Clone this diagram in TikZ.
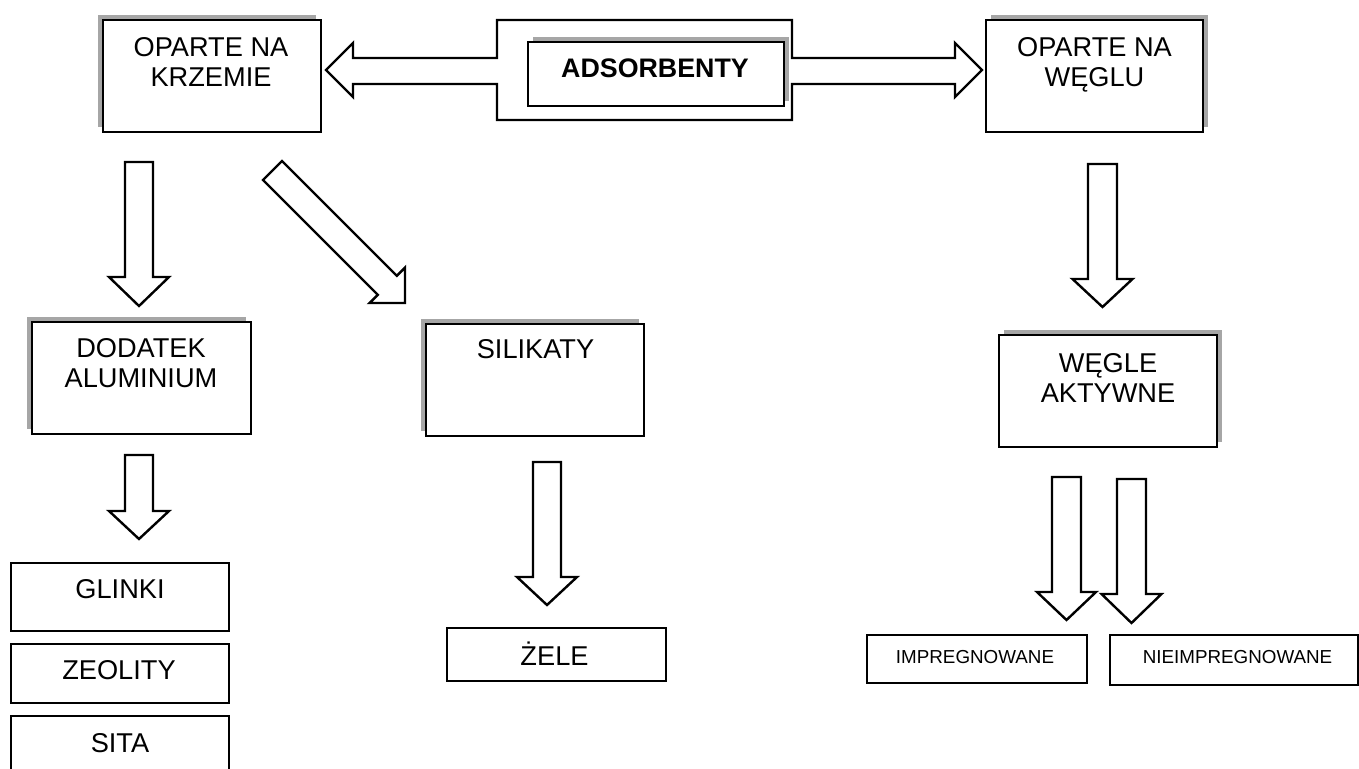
\documentclass[tikz,border=0pt]{standalone}
\usepackage{fontspec}
\setmainfont{Liberation Sans}
\usetikzlibrary{shadows}
\newcommand{\dnarrow}[6]{% x, ytop, ybase, ytip, shaft half width, head half width
  \draw[arr] (#1-#5,#2) -- (#1+#5,#2) -- (#1+#5,#3) -- (#1+#6,#3) -- (#1,#4)
    -- (#1-#6,#3) -- (#1-#5,#3) -- cycle;}
\begin{document}
\begin{tikzpicture}[x=0.5pt,y=-0.5pt,
  box/.style={draw=black, line width=0.75pt, fill=white, rectangle, inner sep=0pt},
  plain/.style={draw=black, line width=0.7pt, fill=white, rectangle, inner sep=0pt},
  shUL/.style={drop shadow={shadow xshift=-2.5pt, shadow yshift=2.5pt, fill=gray!70, opacity=1}},
  shUR/.style={drop shadow={shadow xshift=2.5pt, shadow yshift=2.5pt, fill=gray!70, opacity=1}},
  txt/.style={font=\fontsize{13.6}{15}\selectfont, align=center, inner sep=0pt},
  btxt/.style={font=\fontsize{13.4}{15}\selectfont\bfseries, inner sep=0pt},
  small/.style={font=\fontsize{9.4}{11}\selectfont, inner sep=0pt},
  arr/.style={draw=black, line width=1.2pt, fill=white, line join=miter},
]
\useasboundingbox (0,0) rectangle (1359,769);

% double arrow with ADSORBENTY frame
\draw[arr] (326,70) -- (353,43) -- (353,58) -- (497,58) -- (497,20) -- (792,20)
  -- (792,58) -- (955,58) -- (955,43) -- (982,70) -- (955,97) -- (955,84)
  -- (792,84) -- (792,120) -- (497,120) -- (497,84) -- (353,84) -- (353,97) -- cycle;

% boxes
\node[box,shUR,minimum width=128pt,minimum height=32pt] (ads) at (656,74) {};
\node[box,shUL,minimum width=109pt,minimum height=56pt] (krz) at (212,76) {};
\node[box,shUR,minimum width=108.5pt,minimum height=56pt] (weg) at (1094.5,76) {};
\node[box,shUL,minimum width=109.5pt,minimum height=56pt] (dod) at (141.5,378) {};
\node[box,shUL,minimum width=109pt,minimum height=56pt] (sil) at (535,380) {};
\node[box,shUR,minimum width=109pt,minimum height=56pt] (akt) at (1108,391) {};
\node[plain,minimum width=109pt,minimum height=34pt] (gli) at (120,597) {};
\node[plain,minimum width=109pt,minimum height=29.5pt] (zeo) at (120,673.5) {};
\node[plain,minimum width=109pt,minimum height=42pt] (sita) at (120,758) {};
\node[plain,minimum width=109.5pt,minimum height=26.5pt] (zel) at (556.5,654.5) {};
\node[plain,minimum width=110pt,minimum height=24pt] (imp) at (977,659) {};
\node[plain,minimum width=124pt,minimum height=25pt] (nie) at (1234,660) {};

% labels
\node[btxt,anchor=base] (adsT) at (655,78) {ADSORBENTY};
\node[txt,anchor=north] (krzT) at (211,37) {OPARTE NA\\KRZEMIE};
\node[txt,anchor=north] (wegT) at (1094.5,37) {OPARTE NA\\WĘGLU};
\node[txt,anchor=north] (dodT) at (141,338) {DODATEK\\ALUMINIUM};
\node[txt,anchor=base] (silT) at (535.5,359) {SILIKATY};
\node[txt,anchor=north] (aktT) at (1108,353) {WĘGLE\\AKTYWNE};
\node[txt,anchor=base] (gliT) at (120,598) {GLINKI};
\node[txt,anchor=base] (zeoT) at (119,679) {ZEOLITY};
\node[txt,anchor=base] (sitaT) at (120,752) {SITA};
\node[txt,anchor=base] (zelT) at (554.5,665) {ŻELE};
\node[small,anchor=base] (impT) at (975,663) {IMPREGNOWANE};
\node[small,anchor=base] (nieT) at (1237.5,663) {NIEIMPREGNOWANE};

% block arrows
\dnarrow{139}{162}{277}{306}{14}{30}
\dnarrow{139}{455}{511}{539}{14}{30}
\dnarrow{547}{462}{577}{605}{14}{30}
\dnarrow{1102.5}{164}{279}{307}{14.5}{30}
\dnarrow{1066.5}{477}{592}{620}{14.5}{29.5}
\dnarrow{1131.5}{479}{594}{623}{14.5}{30}
% diagonal arrow
\draw[arr] (263,180) -- (282,161) -- (396.8,275.8) -- (405,267.6) -- (405,303)
  -- (369.6,303) -- (377.8,294.8) -- cycle;
\end{tikzpicture}
\end{document}
